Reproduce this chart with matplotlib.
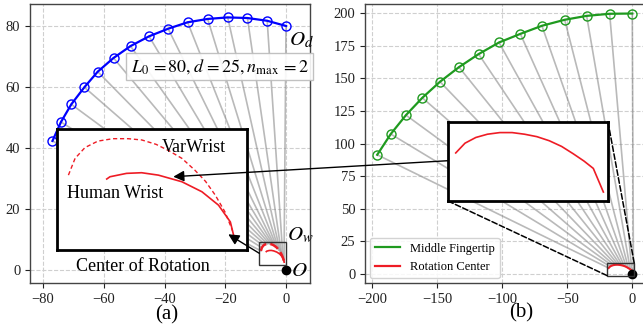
import matplotlib
matplotlib.use('Agg')
import matplotlib.pyplot as plt
from matplotlib.patches import Rectangle, FancyArrowPatch, ConnectionPatch
from matplotlib.lines import Line2D

plt.rcParams['font.family'] = ['Liberation Serif', 'DejaVu Serif']
plt.rcParams['mathtext.fontset'] = 'stix'
plt.rcParams['axes.unicode_minus'] = True

# ---------------- data: panel (a) ----------------
fingertip_a_x = [-76.9, -74.1, -70.7, -66.4, -62.0, -56.8, -51.2, -45.1, -38.8, -32.4, -25.8, -19.2, -12.7, -6.2, 0.0]
fingertip_a_y = [42.3, 48.5, 54.3, 59.9, 65.0, 69.5, 73.4, 76.6, 79.1, 81.2, 82.3, 82.8, 82.6, 81.7, 80.0]

varwrist_x = [-8.27, -7.96, -7.5, -6.9, -6.2, -5.5, -4.86, -4.2, -3.6, -3.0, -2.4, -1.9, -1.45, -1.0, -0.65]
varwrist_y = [6.24, 7.28, 7.95, 8.35, 8.5, 8.5, 8.42, 8.15, 7.75, 7.28, 6.55, 5.85, 5.0, 3.96, 2.8]

human_wrist_x = [-6.49, -6.34, -5.57, -4.87, -4.09, -3.0, -2.07, -1.30, -0.75, -0.6]
human_wrist_y = [6.0, 6.14, 6.35, 6.39, 6.24, 5.83, 5.21, 4.38, 3.34, 2.52]

# ---------------- data: panel (b) ----------------
fingertip_b_x = [-196.2, -185.8, -174.1, -161.5, -147.9, -133.3, -118.2, -102.5, -86.1, -69.5, -52.0, -35.1, -17.4, 0.0]
fingertip_b_y = [91.4, 107.3, 121.8, 135.1, 147.4, 158.6, 168.6, 177.5, 184.1, 190.3, 194.9, 197.9, 199.5, 199.7]

rotc_b_x = [-18.2, -17.0, -15.6, -14.1, -12.5, -10.9, -9.3, -7.7, -6.1, -4.5, -3.0, -1.6, -0.4, 0.9]
rotc_b_y = [4.6, 5.8, 6.5, 6.9, 7.1, 7.1, 6.9, 6.6, 6.1, 5.4, 4.5, 3.6, 2.7, -0.2]

xticks_a = [-80, -60, -40, -20, 0]
yticks_a = [0, 20, 40, 60, 80]
xticks_b = [-200, -150, -100, -50, 0]
yticks_b = [0, 25, 50, 75, 100, 125, 150, 175, 200]

W, H = 643, 331
fig = plt.figure(figsize=(W / 100, H / 100), dpi=100)


def fr(x0, y0, x1, y1):
    return [x0 / W, 1 - y1 / H, (x1 - x0) / W, (y1 - y0) / H]


GREEN = '#1f9a1f'
BLUE = '#0000ff'
RED = '#ee1c25'


def style_main(ax):
    ax.grid(True, ls='--', color='#cfcfcf', lw=0.8)
    ax.set_axisbelow(True)
    for s in ax.spines.values():
        s.set_color('#444444')
        s.set_linewidth(1.0)
    ax.tick_params(labelsize=10.5, length=3.5, width=0.8, colors='#222222')


# ---------------- panel (a) ----------------
axL = fig.add_axes(fr(30, 4, 310, 283))
style_main(axL)
axL.set_xlim(-84.3, 7.9)
axL.set_ylim(-4.3, 87.2)
axL.set_xticks(xticks_a)
axL.set_yticks(yticks_a)

for fx, fy, wx, wy in zip(fingertip_a_x, fingertip_a_y, varwrist_x, varwrist_y):
    axL.plot([fx, wx], [fy, wy], color='gray', alpha=0.55, lw=1.2, zorder=1)
axL.plot(fingertip_a_x, fingertip_a_y, '-o', color=BLUE, lw=1.6, ms=6.5, mfc='none', mew=1.0, zorder=3)
axL.plot(varwrist_x, varwrist_y, '--', color=RED, lw=1.8, zorder=3)
axL.plot(human_wrist_x, human_wrist_y, '-', color=RED, lw=1.2, zorder=3)
axL.plot([0], [0], 'o', color='k', ms=6, zorder=4)
axL.add_patch(Rectangle((-8.8, 1.6), 8.8, 7.5, fill=False, ec='#333333', lw=1.0, zorder=4))

axL.text(0.9, 75.3, r'$O_d$', fontsize=15, va='center', ha='left')
axL.text(0.4, 11.4, r'$O_w$', fontsize=15, va='center', ha='left')
axL.text(1.7, -0.6, r'$O$', fontsize=15, va='center', ha='left')
axL.text(-21.9, 66.7, r'$L_0\,=80, d\,=25, n_{\max}\,=2$', ha='center', va='center', fontsize=13,
         bbox=dict(boxstyle='square,pad=0.25', fc='white', ec='#bbbbbb', alpha=0.9), zorder=5)
axL.text(-69.0, 1.0, 'Center of Rotation', fontsize=13, va='center', ha='left', zorder=5)

insL = fig.add_axes(fr(57, 129, 246.5, 250), zorder=3)
insL.set_xlim(-8.8, 0)
insL.set_ylim(1.6, 9.1)
insL.set_xticks([])
insL.set_yticks([])
for s in insL.spines.values():
    s.set_color('k')
    s.set_linewidth(2.0)
insL.plot(varwrist_x, varwrist_y, '--', color=RED, lw=1.0, dashes=(3, 2))
insL.plot(human_wrist_x, human_wrist_y, '-', color=RED, lw=1.2)
insL.text(-3.92, 7.98, 'VarWrist', fontsize=13, va='center', ha='left')
insL.text(-8.33, 5.12, 'Human Wrist', fontsize=13, va='center', ha='left')

# ---------------- panel (b) ----------------
axR = fig.add_axes(fr(365, 4, 648, 283))
style_main(axR)
axR.set_xlim(-205.6, 12.1)
axR.set_ylim(-6.9, 207.0)
axR.set_xticks(xticks_b)
axR.set_yticks(yticks_b)

for fx, fy, wx, wy in zip(fingertip_b_x, fingertip_b_y, rotc_b_x, rotc_b_y):
    axR.plot([fx, wx], [fy, wy], color='gray', alpha=0.55, lw=1.2, zorder=1)
axR.plot(fingertip_b_x, fingertip_b_y, '-o', color=GREEN, lw=1.6, ms=6.5, mfc='none', mew=1.0, zorder=3)
axR.plot(rotc_b_x, rotc_b_y, '-', color=RED, lw=1.5, zorder=3)
axR.plot([0], [0], 'o', color='k', ms=6, zorder=4)
axR.add_patch(Rectangle((-19.2, -1.3), 20.7, 9.7, fill=False, ec='#333333', lw=1.0, zorder=4))

handles = [Line2D([], [], color=GREEN, lw=1.6), Line2D([], [], color=RED, lw=1.6)]
leg = axR.legend(handles, ['Middle Fingertip', 'Rotation Center'], loc='lower left', fontsize=9,
                 framealpha=0.85, edgecolor='#cccccc', fancybox=True, borderaxespad=0.4)

insR = fig.add_axes(fr(448, 122, 608, 201), zorder=3)
insR.set_xlim(-19.2, 1.5)
insR.set_ylim(-1.3, 8.4)
insR.set_xticks([])
insR.set_yticks([])
for s in insR.spines.values():
    s.set_color('k')
    s.set_linewidth(2.0)
insR.plot(rotc_b_x, rotc_b_y, '-', color=RED, lw=1.2)

# connectors for the zoom of panel (b)
for (ia, ib) in [((0, 0), (-19.2, -1.3)), ((1, 1), (1.5, 8.4))]:
    con = ConnectionPatch(xyA=ia, coordsA=insR.transAxes, xyB=ib, coordsB=axR.transData,
                          ls='--', color='k', lw=1.1, zorder=6)
    fig.add_artist(con)

# arrows
arr1 = FancyArrowPatch(posA=(448 / W, 1 - 160.7 / H), posB=(173.3 / W, 1 - 176.7 / H),
                       transform=fig.transFigure, arrowstyle='-|>', mutation_scale=16,
                       color='k', lw=1.0, zorder=6, shrinkA=0, shrinkB=0)
fig.add_artist(arr1)
arr2 = FancyArrowPatch(posA=(259.3 / W, 1 - 253.3 / H), posB=(228.3 / W, 1 - 234.3 / H),
                       transform=fig.transFigure, arrowstyle='-|>', mutation_scale=16,
                       color='k', lw=1.0, zorder=6, shrinkA=0, shrinkB=0)
fig.add_artist(arr2)

fig.text(166.7 / W, 1 - 315 / H, '(a)', fontsize=15, ha='center', va='center')
fig.text(520.7 / W, 1 - 313 / H, '(b)', fontsize=15, ha='center', va='center')

fig.savefig('out.png', dpi=100)
